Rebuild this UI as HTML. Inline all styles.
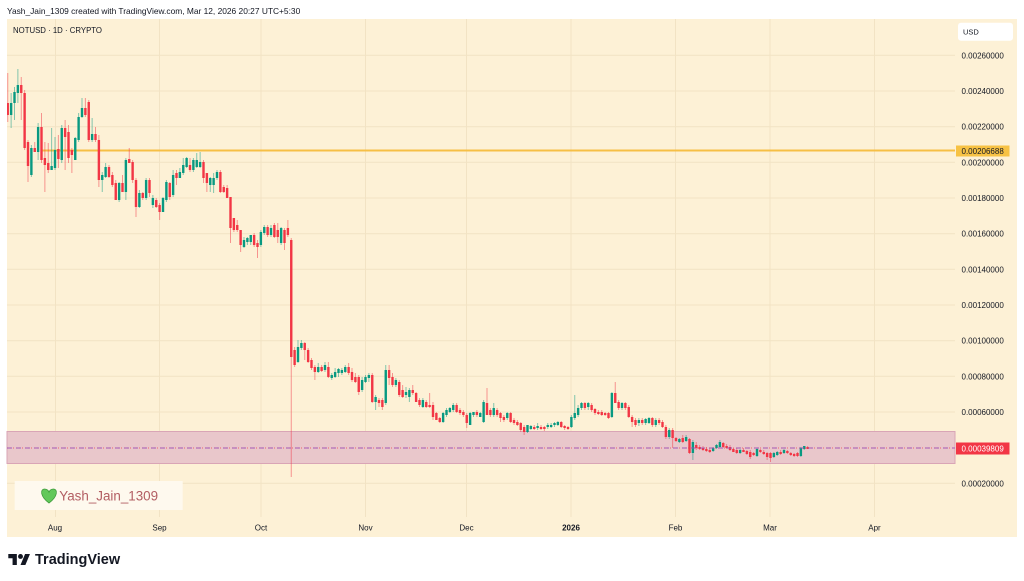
<!DOCTYPE html>
<html>
<head>
<meta charset="utf-8">
<style>
  html,body{margin:0;padding:0;background:#ffffff;}
  body{width:1024px;height:581px;overflow:hidden;}
  svg{display:block;}
  text{font-family:"Liberation Sans",Arial,sans-serif;}
</style>
</head>
<body>
<svg width="1024" height="581" viewBox="0 0 1024 581" xmlns="http://www.w3.org/2000/svg">
  <defs>
    <clipPath id="plot"><rect x="7" y="19" width="948" height="498"/></clipPath>
  </defs>

  <!-- header -->
  <text x="7" y="14" font-size="8.4" fill="#131722">Yash_Jain_1309 created with TradingView.com, Mar 12, 2026 20:27 UTC+5:30</text>

  <!-- chart background -->
  <rect x="7" y="19" width="1010" height="518" fill="#fdf1d6"/>

  <!-- grid -->
  <g stroke="#f2e3c4" stroke-width="1">
    <path d="M7 55.3H955M7 91H955M7 126.7H955M7 162.3H955M7 198H955M7 233.7H955M7 269.3H955M7 305H955M7 340.7H955M7 376.3H955M7 412H955M7 447.7H955M7 483.3H955"/>
    <path d="M55.5 19V517M159.5 19V517M261 19V517M365.5 19V517M466.5 19V517M571 19V517M675.5 19V517M770 19V517M874.5 19V517"/>
  </g>

  <!-- pink zone -->
  <rect x="7" y="431.5" width="948" height="32" fill="#e9c7cb" stroke="#d9a5b6" stroke-width="1"/>

  <!-- yellow horizontal line -->
  <line x1="41" y1="150.5" x2="955" y2="150.5" stroke="#f6bf45" stroke-width="2"/>

  <!-- candles -->
  <g clip-path="url(#plot)">
    <g transform="translate(7.75 0) scale(3.375 1)" fill="none">
      <path vector-effect="non-scaling-stroke" stroke="#089981" stroke-opacity="0.5" stroke-width="1" d="M1 93V128M2 87V120M3 69V103M7 145V177M9 123V160M13 128V170M14 137V170M16 125V163M20 137V160M21 113V142M22 98V118M25 118V142M28 172V192M29 163V178M33 182V202M35 158V200M39 190V208M41 178V200M43 195V208M46 197V212M47 180V202M49 170V197M51 168V178M52 158V175M53 157V168M55 158V172M56 153V168M57 152V168M60 177V192M61 173V193M62 170V180M70 237V248M71 237V245M72 235V245M75 230V247M76 225V235M78 225V237M81 227V245M86 340V363M87 340V350M92 363V373M94 362V372M96 373V380M97 368V378M98 368V377M99 368V375M100 365V373M105 377V392M106 375V383M107 373V382M109 395V410M112 365V405M115 378V387M118 387V398M119 388V402M123 398V408M129 412V423M130 408V417M131 407V413M132 403V412M137 412V425M138 412V417M140 412V417M141 400V423M144 403V417M148 412V420M154 425V433M155 425V430M157 423V430M160 423V429M161 423V428M162 422V427M163 421V426M167 415V428M168 395V420M169 405V417M170 402V410M172 402V410M179 392V418M182 402V410M187 418V426M189 418V425M190 417V424M192 418V427M196 428V439M199 438V443M201 435V442M203 440V460M209 447V452M210 444V449M211 440V448M217 449V454M222 448V457M227 452V458M228 451V456M230 449V454M235 447V457M236 446V450"/>
      <path vector-effect="non-scaling-stroke" stroke="#f23645" stroke-opacity="0.5" stroke-width="1" d="M0 73V122M4 77V120M5 90V150M6 140V182M8 142V152M10 113V163M11 142V192M12 143V173M15 135V168M17 120V170M18 125V163M19 148V173M23 98V117M24 100V142M26 127V142M27 135V187M30 165V178M31 172V187M32 180V200M34 175V192M36 148V163M37 160V183M38 178V217M40 192V200M42 178V197M44 198V208M45 203V220M48 182V200M50 170V185M54 158V172M58 160V183M59 173V192M63 170V193M64 185V193M65 185V198M66 197V243M67 218V232M68 220V232M69 230V252M73 233V247M74 240V258M77 225V237M79 223V238M80 223V243M82 228V250M83 220V237M84 238V477M85 347V367M88 342V360M89 348V363M90 358V370M91 365V380M93 365V372M95 362V378M101 363V375M102 368V382M103 373V383M104 375V395M108 373V403M110 398V407M111 398V410M113 365V385M114 373V387M116 380V397M117 385V398M120 385V395M121 392V402M122 398V407M124 400V408M125 393V408M126 402V420M127 412V420M128 417V423M133 403V413M134 408V415M135 410V417M136 413V428M139 410V417M142 388V415M143 408V417M145 408V417M146 412V422M147 415V422M149 412V423M150 418V425M151 420V426M152 422V432M153 425V435M156 425V430M158 425V430M159 426V431M164 421V428M165 425V430M166 426V430M171 402V410M173 403V412M174 408V415M175 410V415M176 410V416M177 412V416M178 412V419M180 382V403M181 400V410M183 402V410M184 405V418M185 415V427M186 418V427M188 418V425M191 417V427M193 418V425M194 420V428M195 425V439M197 428V448M198 437V442M200 435V443M202 438V454M204 442V450M205 445V450M206 446V451M207 447V452M208 448V453M212 442V448M213 444V449M214 445V451M215 448V452M216 448V454M218 448V452M219 450V455M220 450V459M221 452V456M223 449V453M224 450V455M225 452V460M226 452V462M229 450V455M231 450V454M232 452V456M233 453V457M234 452V457M237 446V449"/>
      <path vector-effect="non-scaling-stroke" stroke="#089981" stroke-width="2.4" d="M1 115V103M2 103V92M3 93V85M7 175V148M9 152V127M13 170V166M14 168V150M16 160V128M20 160V138M21 140V117M22 117V108M25 140V134M28 180V175M29 177V167M33 200V183M35 192V160M39 207V193M41 198V180M43 205V198M46 212V198M47 200V182M49 195V175M51 178V172M52 173V165M53 167V158M55 170V160M56 167V160M57 167V162M60 185V178M61 185V178M62 178V172M70 247V240M71 242V238M72 242V235M75 245V232M76 233V227M78 235V228M81 243V228M86 362V347M87 348V343M92 372V367M94 370V365M96 378V375M97 377V372M98 373V369M99 373V370M100 372V367M105 390V380M106 382V377M107 378V375M109 402V397M112 403V370M115 385V380M118 395V392M119 397V390M123 407V400M129 422V413M130 415V410M131 412V408M132 410V405M137 425V413M138 415V412M140 417V413M141 422V402M144 415V408M148 418V413M154 432V425M155 429V426M157 428V426M160 427V425M161 427V425M162 425V423M163 425V422M167 427V417M168 418V413M169 415V408M170 408V403M172 407V403M179 417V393M182 408V403M187 423V420M189 423V419M190 423V418M192 425V420M196 437V430M199 442V439M201 441V437M203 453V442M209 451V448M210 448V445M211 447V442M217 453V450M222 456V449M227 457V453M228 455V452M230 453V450M235 456V448M236 449V446"/>
      <path vector-effect="non-scaling-stroke" stroke="#f23645" stroke-width="2.4" d="M0 103V115M4 85V93M5 93V148M6 142V166M8 148V152M10 127V160M11 158V165M12 163V170M15 149V159M17 128V137M18 132V158M19 150V155M23 108V115M24 102V140M26 134V140M27 140V180M30 167V177M31 175V185M32 183V200M34 183V192M36 159V163M37 162V180M38 180V207M40 193V198M42 180V193M44 200V207M45 205V212M48 183V197M50 173V178M54 165V170M58 162V178M59 173V183M63 172V192M64 187V192M65 188V198M66 197V228M67 218V230M68 225V230M69 230V245M73 235V245M74 243V247M77 227V235M79 225V237M80 230V237M82 230V243M83 228V235M84 240V357M85 350V365M88 343V350M89 350V362M90 360V368M91 367V372M93 367V371M95 367V377M101 367V373M102 372V380M103 377V382M104 377V392M108 375V402M110 400V403M111 400V407M113 370V378M114 377V385M116 382V395M117 390V397M120 390V393M121 393V402M122 400V405M124 402V407M125 405V407M126 405V417M127 413V420M128 418V422M133 405V412M134 410V413M135 412V415M136 415V423M139 412V415M142 403V415M143 410V415M145 410V415M146 413V418M147 417V420M149 413V422M150 420V423M151 422V425M152 423V430M153 427V432M156 427V429M158 427V429M159 427V429M164 422V427M165 426V428M166 427V429M171 403V408M173 405V410M174 409V413M175 412V414M176 412V415M177 413V415M178 413V418M180 393V403M181 402V408M183 403V408M184 407V417M185 417V422M186 420V425M188 420V423M191 418V425M193 420V423M194 422V427M195 427V437M197 430V438M198 438V441M200 438V442M202 439V453M204 445V448M205 447V449M206 448V450M207 449V451M208 450V452M212 443V447M213 446V448M214 447V450M215 449V452M216 450V453M218 450V452M219 451V454M220 452V457M221 453V455M223 450V452M224 452V454M225 453V457M226 453V458M229 452V454M231 451V453M232 453V455M233 454V456M234 453V456M237 447V449"/>
    </g>
  </g>

  <!-- price lines -->
  <line x1="7" y1="448" x2="955" y2="448" stroke="#f23645" stroke-width="1" stroke-dasharray="1 2" stroke-opacity="0.7"/>
  <line x1="7" y1="448" x2="955" y2="448" stroke="#9c4fb5" stroke-width="1" stroke-dasharray="5 4" stroke-opacity="0.9"/>

  <!-- legend title -->
  <text x="13" y="33" font-size="7.8" fill="#131722">NOTUSD · 1D · CRYPTO</text>

  <!-- watermark -->
  <rect x="14.7" y="481" width="168" height="29" fill="#fef9ee"/>
  <path d="M49 503 C40 496.5 40 489 44.7 489 C47.2 489 49 491 49 492.6 C49 491 50.8 489 53.3 489 C58 489 58 496.5 49 503 Z" fill="#62c85a" stroke="#3f9b3d" stroke-width="0.8"/>
  <text x="59.3" y="500.5" font-size="13.4" fill="#b35e63">Yash_Jain_1309</text>

  <!-- right axis -->
  <rect x="958" y="22.7" width="55" height="18" rx="3" fill="#ffffff"/>
  <text x="963" y="34.5" font-size="7.5" fill="#131722">USD</text>
  <g font-size="8" fill="#131722">
    <text x="961.5" y="58.3">0.00260000</text>
    <text x="961.5" y="94">0.00240000</text>
    <text x="961.5" y="129.7">0.00220000</text>
    <text x="961.5" y="165.3">0.00200000</text>
    <text x="961.5" y="201">0.00180000</text>
    <text x="961.5" y="236.7">0.00160000</text>
    <text x="961.5" y="272.3">0.00140000</text>
    <text x="961.5" y="308">0.00120000</text>
    <text x="961.5" y="343.7">0.00100000</text>
    <text x="961.5" y="379.3">0.00080000</text>
    <text x="961.5" y="415">0.00060000</text>
    <text x="961.5" y="486.3">0.00020000</text>
  </g>
  <rect x="956" y="145.5" width="53.5" height="11" fill="#f7c244"/>
  <text x="961.5" y="153.8" font-size="8" fill="#131722">0.00206688</text>
  <rect x="956" y="442.5" width="53.5" height="12" fill="#f23645"/>
  <text x="961.5" y="451.3" font-size="8" fill="#ffffff">0.00039809</text>

  <!-- time axis -->
  <g font-size="8" fill="#131722" text-anchor="middle">
    <text x="55" y="530.5">Aug</text>
    <text x="159.5" y="530.5">Sep</text>
    <text x="261" y="530.5">Oct</text>
    <text x="365.5" y="530.5">Nov</text>
    <text x="466.5" y="530.5">Dec</text>
    <text x="571" y="530.5" font-weight="bold">2026</text>
    <text x="675.5" y="530.5">Feb</text>
    <text x="770" y="530.5">Mar</text>
    <text x="874.5" y="530.5">Apr</text>
  </g>

  <!-- TradingView logo -->
  <g transform="translate(8.3 551.6) scale(0.61)" fill="#131722">
    <path d="M14 22H7V11H0V4h14v18zM28 22h-8l7.5-18h8L28 22z"/>
    <circle cx="20" cy="8" r="4"/>
  </g>
  <text x="35" y="564" font-size="14.5" font-weight="bold" fill="#131722">TradingView</text>
</svg>
</body>
</html>
